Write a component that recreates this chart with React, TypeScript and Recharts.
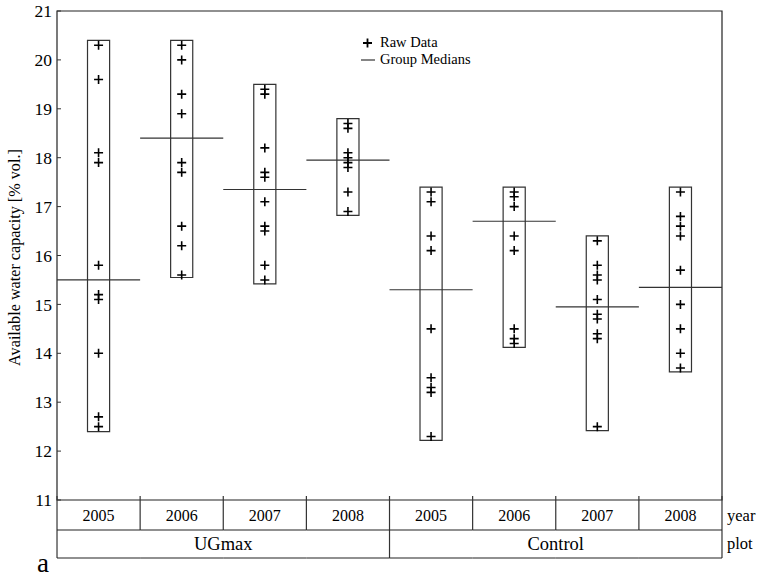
import {
  ComposedChart,
  Scatter,
  XAxis,
  YAxis,
  ReferenceArea,
  ReferenceLine,
  Legend,
} from "recharts";

const plots = ["UGmax", "Control"];
const years = ["2005", "2006", "2007", "2008", "2005", "2006", "2007", "2008"];

// raw values per group (UGmax 2005..2008, Control 2005..2008)
const raw: number[][] = [
  [20.3, 19.6, 18.1, 17.9, 15.8, 15.2, 15.1, 14.0, 12.7, 12.5],
  [20.3, 20.0, 19.3, 18.9, 17.9, 17.7, 16.6, 16.2, 15.6],
  [19.4, 19.3, 18.2, 17.7, 17.6, 17.1, 16.6, 16.5, 15.8, 15.5],
  [18.7, 18.6, 18.1, 18.0, 17.9, 17.8, 17.3, 16.9],
  [17.3, 17.1, 16.4, 16.1, 14.5, 13.5, 13.3, 13.2, 12.3],
  [17.3, 17.2, 17.0, 16.4, 16.1, 14.5, 14.3, 14.2],
  [16.3, 15.8, 15.6, 15.5, 15.1, 14.8, 14.7, 14.4, 14.3, 12.5],
  [17.3, 16.8, 16.6, 16.4, 15.7, 15.0, 14.5, 14.0, 13.7],
];
const medians = [15.5, 18.4, 17.35, 17.95, 15.3, 16.7, 14.95, 15.35];
const boxLow = [12.4, 15.55, 15.42, 16.82, 12.22, 14.12, 12.42, 13.62];
const boxHigh = [20.4, 20.4, 19.5, 18.8, 17.4, 17.4, 16.4, 17.4];
const yTicks = [11, 12, 13, 14, 15, 16, 17, 18, 19, 20, 21];

const points = raw.flatMap((vals, i) => vals.map((v) => ({ x: i + 0.5, y: v })));

const SERIF = "'Liberation Serif', 'DejaVu Serif', serif";
const serifStyle = { fontFamily: SERIF };
const BOX_HALF = 0.133;
const COL_PX = 83.1;
const ROW1 = 30;
const ROW2 = 58;

const Plus = ({ cx, cy }: { cx?: number; cy?: number }) => {
  if (cx == null || cy == null) return null;
  return (
    <path
      d={`M${cx - 4.5},${cy}H${cx + 4.5}M${cx},${cy - 4.5}V${cy + 4.5}`}
      stroke="#000"
      strokeWidth={1.6}
    />
  );
};

const YTick = ({ x, y, payload }: any) => (
  <g>
    <line x1={x} x2={x + 4} y1={y} y2={y} stroke="#333" strokeWidth={1} />
    <text x={x - 5} y={y} dy="0.35em" textAnchor="end" style={serifStyle} fontSize={17.5} fill="#000">
      {payload.value}
    </text>
  </g>
);

// year row + plot row drawn from the same axis
const TableTick = ({ x, y, index }: any) => {
  const l = x - COL_PX / 2;
  const r = x + COL_PX / 2;
  const last = index === years.length - 1;
  const groupEdge = index % 4 === 0;
  return (
    <g>
      <line x1={l} x2={l} y1={y - 4} y2={y + (groupEdge ? ROW2 : ROW1)} stroke="#333" strokeWidth={1.2} />
      {last && <line x1={r} x2={r} y1={y - 4} y2={y + ROW2} stroke="#333" strokeWidth={1.2} />}
      <line x1={l} x2={r} y1={y + ROW1} y2={y + ROW1} stroke="#222" strokeWidth={1.2} />
      <line x1={l} x2={r} y1={y + ROW2} y2={y + ROW2} stroke="#222" strokeWidth={1.2} />
      <text x={x} y={y + 21} textAnchor="middle" style={serifStyle} fontSize={16} fill="#000">
        {years[index]}
      </text>
      {index % 4 === 1 && (
        <text x={r} y={y + 50} textAnchor="middle" style={serifStyle} fontSize={18.5} fill="#000">
          {plots[Math.floor(index / 4)]}
        </text>
      )}
      {last && (
        <g>
          <text x={r + 5} y={y + 21} style={serifStyle} fontSize={16.5} fill="#000">
            year
          </text>
          <text x={r + 5} y={y + 49} style={serifStyle} fontSize={16.5} fill="#000">
            plot
          </text>
        </g>
      )}
    </g>
  );
};

const LegendBox = () => (
  <div style={{ fontFamily: SERIF, fontSize: 14.5, color: "#000", lineHeight: "17px" }}>
    <div style={{ display: "flex", alignItems: "center" }}>
      <svg width={16} height={12}>
        <path d="M3,6H12M7.5,1.5V10.5" stroke="#000" strokeWidth={1.8} />
      </svg>
      <span style={{ marginLeft: 4 }}>Raw Data</span>
    </div>
    <div style={{ display: "flex", alignItems: "center" }}>
      <svg width={16} height={12}>
        <line x1={1} x2={15} y1={6} y2={6} stroke="#333" strokeWidth={1.2} />
      </svg>
      <span style={{ marginLeft: 4 }}>Group Medians</span>
    </div>
  </div>
);

export default function App() {
  return (
    <div style={{ position: "absolute", left: 0, top: 0, width: 759, height: 580, background: "#fff" }}>
      <ComposedChart
        width={759}
        height={580}
        margin={{ top: 11, right: 37, bottom: 22, left: 0 }}
      >
        <XAxis
          type="number"
          dataKey="x"
          domain={[0, 8]}
          ticks={[0.5, 1.5, 2.5, 3.5, 4.5, 5.5, 6.5, 7.5]}
          interval={0}
          height={ROW2}
          axisLine={false}
          tickLine={false}
          tickSize={0}
          tickMargin={0}
          tick={<TableTick />}
        />
        <YAxis
          type="number"
          domain={[11, 21]}
          ticks={yTicks}
          interval={0}
          width={57}
          axisLine={false}
          tickLine={false}
          tickSize={0}
          tickMargin={0}
          tick={<YTick />}
          label={{
            content: ({ viewBox }: any) => {
              const cx = viewBox.x + 16;
              const cy = viewBox.y + viewBox.height / 2 + 2;
              return (
                <text
                  x={cx}
                  y={cy}
                  transform={`rotate(-90 ${cx} ${cy})`}
                  textAnchor="middle"
                  dominantBaseline="middle"
                  style={serifStyle}
                  fontSize={16.2}
                  fill="#000"
                >
                  Available water capacity [% vol.]
                </text>
              );
            },
          }}
        />
        <ReferenceArea
          x1={0}
          x2={8}
          y1={11}
          y2={21}
          fill="none"
          fillOpacity={0}
          stroke="#222"
          strokeWidth={1.2}
        />
        {boxLow.map((lo, i) => (
          <ReferenceArea
            key={`box${i}`}
            x1={i + 0.5 - BOX_HALF}
            x2={i + 0.5 + BOX_HALF}
            y1={lo}
            y2={boxHigh[i]}
            fill="none"
            fillOpacity={0}
            stroke="#333"
            strokeWidth={1.2}
          />
        ))}
        {medians.map((m, i) => (
          <ReferenceLine
            key={`med${i}`}
            segment={[
              { x: i, y: m },
              { x: i + 1, y: m },
            ]}
            stroke="#333"
            strokeWidth={1.2}
          />
        ))}
        <Scatter
          name="Raw Data"
          data={points}
          dataKey="y"
          shape={<Plus />}
          isAnimationActive={false}
        />
        <Legend
          verticalAlign="middle"
          align="center"
          content={<LegendBox />}
          wrapperStyle={{ top: 34, left: 360, width: 140 }}
        />
      </ComposedChart>
      <div
        style={{
          position: "absolute",
          left: 37,
          top: 551,
          fontFamily: SERIF,
          fontSize: 27,
          lineHeight: "24px",
          color: "#000",
        }}
      >
        a
      </div>
    </div>
  );
}
